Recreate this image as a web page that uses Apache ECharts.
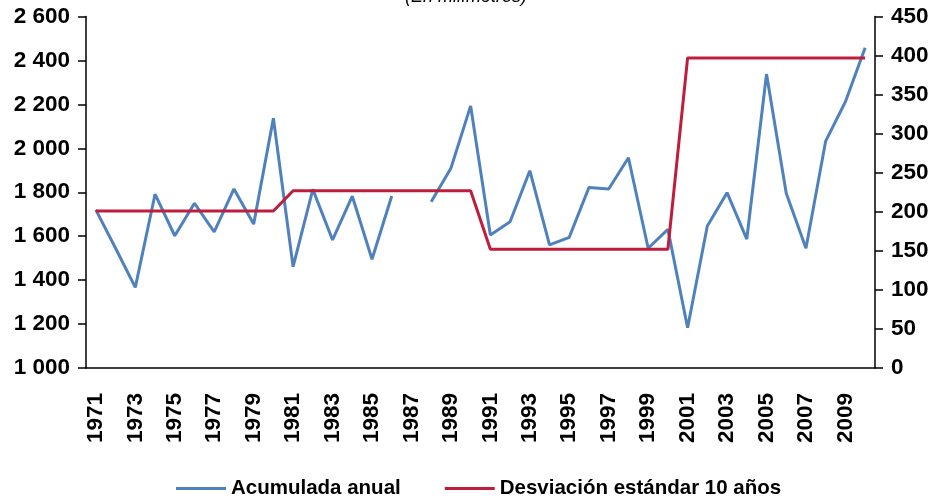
<!DOCTYPE html>
<html>
<head>
<meta charset="utf-8">
<script src="https://cdn.jsdelivr.net/npm/echarts@6/dist/echarts.min.js"></script>
<style>
  html, body { margin: 0; padding: 0; background: #fff; }
  #chart { width: 932px; height: 500px; }
</style>
</head>
<body>
<div id="chart"></div>
<script>
// years 1971 - 2010
const years = [
  '1971', '1972', '1973', '1974', '1975', '1976', '1977', '1978', '1979', '1980',
  '1981', '1982', '1983', '1984', '1985', '1986', '1987', '1988', '1989', '1990',
  '1991', '1992', '1993', '1994', '1995', '1996', '1997', '1998', '1999', '2000',
  '2001', '2002', '2003', '2004', '2005', '2006', '2007', '2008', '2009', '2010'
];

// rainfall per year (mm), 1987 has no value
const acumulada = [
  1720, 1545, 1367, 1791, 1602, 1750, 1620, 1815, 1655, 2137,
  1461, 1813, 1583, 1782, 1495, 1783, null, 1757, 1909, 2193,
  1605, 1666, 1898, 1560, 1595, 1822, 1815, 1957, 1545, 1631,
  1183, 1646, 1798, 1587, 2338, 1795, 1545, 2033, 2212, 2458
];

// 10 year standard deviation (right axis)
const desviacion = [
  201, 201, 201, 201, 201, 201, 201, 201, 201, 201,
  227, 227, 227, 227, 227, 227, 227, 227, 227, 227,
  152, 152, 152, 152, 152, 152, 152, 152, 152, 152,
  397, 397, 397, 397, 397, 397, 397, 397, 397, 397
];

const font = 'Liberation Sans, Arial, Helvetica, sans-serif';

const chart = echarts.init(document.getElementById('chart'), null, { renderer: 'canvas' });

chart.setOption({
  animation: false,
  backgroundColor: '#fff',
  title: {
    text: '(En milímetros)',
    left: 'center',
    top: -17,
    textStyle: { fontFamily: font, fontSize: 18, fontStyle: 'italic', fontWeight: 'normal', color: '#000' }
  },
  grid: { left: 86, right: 57, top: 16.5, bottom: 132 },
  legend: {
    top: 473,
    left: 171,
    itemGap: 44,
    itemWidth: 50,
    itemHeight: 3,
    icon: 'rect',
    textStyle: { fontFamily: font, fontSize: 20.5, fontWeight: 'bold', color: '#000' },
    data: ['Acumulada anual', 'Desviación estándar 10 años']
  },
  xAxis: {
    type: 'category',
    data: years,
    boundaryGap: true,
    axisLine: { lineStyle: { color: '#000', width: 1.5 } },
    axisTick: { interval: 0, length: 6, lineStyle: { color: '#000', width: 1.5 } },
    axisLabel: {
      interval: 1,
      rotate: 90,
      margin: 25,
      color: '#000',
      fontFamily: font,
      fontSize: 22.5,
      fontWeight: 'bold'
    }
  },
  yAxis: [
    {
      type: 'value',
      min: 1000,
      max: 2600,
      interval: 200,
      splitLine: { show: false },
      axisLine: { show: true, lineStyle: { color: '#000', width: 1.5 } },
      axisTick: { show: true, length: 8, lineStyle: { color: '#000', width: 1.5 } },
      axisLabel: {
        margin: 16,
        color: '#000',
        fontFamily: font,
        fontSize: 22.5,
        fontWeight: 'bold',
        formatter: v => String(v).replace(/\B(?=(\d{3})+(?!\d))/g, ' ')
      }
    },
    {
      type: 'value',
      min: 0,
      max: 450,
      interval: 50,
      position: 'right',
      splitLine: { show: false },
      axisLine: { show: true, lineStyle: { color: '#000', width: 1.5 } },
      axisTick: { show: true, length: 8, lineStyle: { color: '#000', width: 1.5 } },
      axisLabel: {
        margin: 16,
        color: '#000',
        fontFamily: font,
        fontSize: 22.5,
        fontWeight: 'bold'
      }
    }
  ],
  series: [
    {
      name: 'Acumulada anual',
      type: 'line',
      data: acumulada,
      yAxisIndex: 0,
      connectNulls: false,
      showSymbol: false,
      symbol: 'none',
      color: '#4F81BD',
      lineStyle: { color: '#4F81BD', width: 3 }
    },
    {
      name: 'Desviación estándar 10 años',
      type: 'line',
      data: desviacion,
      yAxisIndex: 1,
      showSymbol: false,
      symbol: 'none',
      color: '#BE1E3C',
      lineStyle: { color: '#BE1E3C', width: 3 }
    }
  ]
});
</script>
</body>
</html>
